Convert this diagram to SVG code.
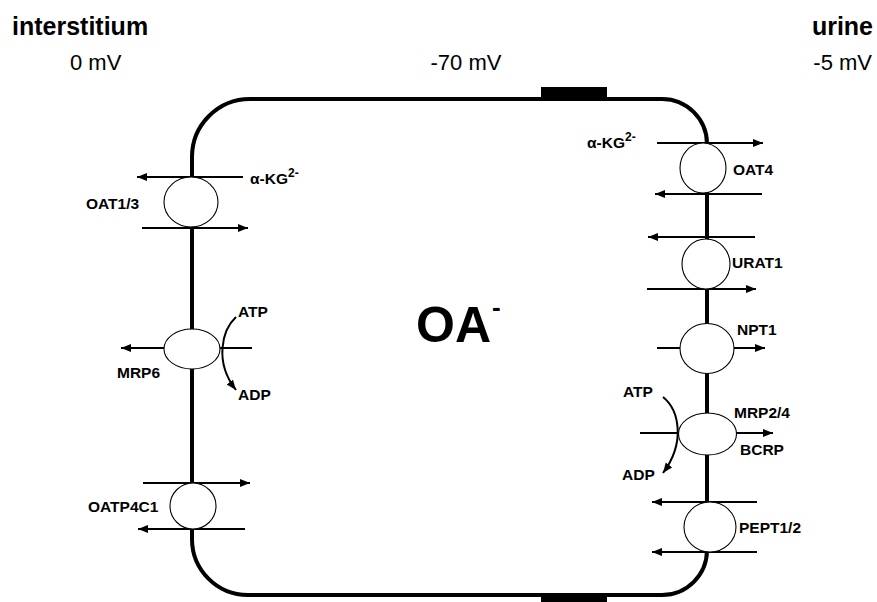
<svg xmlns="http://www.w3.org/2000/svg" width="877" height="602" viewBox="0 0 877 602">
<defs>
<marker id="ah" markerUnits="userSpaceOnUse" markerWidth="12" markerHeight="10" refX="10" refY="4" orient="auto">
<path d="M0,0 L10,4 L0,8 z" fill="#000"/>
</marker>
<style>
.lbl{font-family:"Liberation Sans",Arial,sans-serif;font-weight:bold;font-size:15.5px;fill:#000}
.hdr{font-family:"Liberation Sans",Arial,sans-serif;font-weight:bold;font-size:25px;fill:#000}
.mv{font-family:"Liberation Sans",Arial,sans-serif;font-size:22px;fill:#000}
.tr{fill:#fff;stroke:#000;stroke-width:1.1}
.ar{stroke:#000;stroke-width:2;fill:none}
.arm{stroke:#000;stroke-width:2;fill:none;marker-end:url(#ah)}
</style>
</defs>
<rect width="877" height="602" fill="#fff"/>
<g id="header">
<text class="hdr" x="12" y="35">interstitium</text>
<text class="hdr" x="873" y="35" text-anchor="end">urine</text>
<text class="mv" x="70" y="70">0 mV</text>
<text class="mv" x="466" y="70" text-anchor="middle">-70 mV</text>
<text class="mv" x="872" y="70" text-anchor="end">-5 mV</text>
</g>
<g id="cell">
<path d="M250,99 H662 A45,45 0 0 1 707,144 V550 A45,45 0 0 1 662,595 H248 A56,56 0 0 1 192,539 V157 A58,58 0 0 1 250,99 Z" fill="none" stroke="#000" stroke-width="4"/>
<rect x="541" y="87" width="66" height="12" fill="#000"/>
<rect x="541" y="595" width="66" height="7" fill="#000"/>
<text x="416" y="342" style="font-family:'Liberation Sans',Arial,sans-serif;font-weight:bold;font-size:50px">OA<tspan font-size="26" dx="1" dy="-26">-</tspan></text>
</g>
<g id="connectors">
<line class="arm" x1="243" y1="177" x2="137" y2="177"/>
<line class="arm" x1="142" y1="228" x2="248" y2="228"/>
<line class="arm" x1="164" y1="348" x2="121" y2="348"/>
<line class="ar" x1="220" y1="348" x2="252" y2="348"/>
<path class="arm" d="M236,317 C222,330 214,362 236,390"/>
<line class="arm" x1="143" y1="483" x2="250" y2="483"/>
<line class="arm" x1="245" y1="529" x2="138" y2="529"/>
<line class="arm" x1="657" y1="143" x2="763" y2="143"/>
<line class="arm" x1="762" y1="194" x2="655" y2="194"/>
<line class="arm" x1="755" y1="237" x2="648" y2="237"/>
<line class="arm" x1="647" y1="289" x2="756" y2="289"/>
<line class="ar" x1="657" y1="348" x2="680" y2="348"/>
<line class="arm" x1="733" y1="348" x2="765" y2="348"/>
<line class="ar" x1="640" y1="433" x2="679" y2="433"/>
<line class="arm" x1="736" y1="433" x2="773" y2="433"/>
<path class="arm" d="M663,397 C679,410 686,442 663,473"/>
<line class="arm" x1="757" y1="502" x2="652" y2="502"/>
<line class="arm" x1="757" y1="552" x2="652" y2="552"/>
</g>
<g id="OAT1_3">
<ellipse class="tr" cx="191" cy="202" rx="27" ry="25"/>
<text class="lbl" x="86" y="209">OAT1/3</text>
<text class="lbl" x="250" y="184" font-size="19">α-KG<tspan font-size="12" dy="-7">2-</tspan></text>
</g>
<g id="MRP6">
<ellipse class="tr" cx="192" cy="349" rx="28" ry="20"/>
<text class="lbl" x="117" y="378">MRP6</text>
<text class="lbl" x="238" y="317">ATP</text>
<text class="lbl" x="238" y="400">ADP</text>
</g>
<g id="OATP4C1">
<ellipse class="tr" cx="193" cy="506" rx="23" ry="23"/>
<text class="lbl" x="88" y="512">OATP4C1</text>
</g>
<g id="OAT4">
<ellipse class="tr" cx="703" cy="168" rx="23" ry="25"/>
<text class="lbl" x="733" y="175">OAT4</text>
<text class="lbl" x="587" y="148" font-size="19">α-KG<tspan font-size="12" dy="-7">2-</tspan></text>
</g>
<g id="URAT1">
<ellipse class="tr" cx="706" cy="264" rx="24" ry="25"/>
<text class="lbl" x="732" y="268">URAT1</text>
</g>
<g id="NPT1">
<ellipse class="tr" cx="707" cy="348.5" rx="27" ry="25"/>
<text class="lbl" x="737" y="335">NPT1</text>
</g>
<g id="MRP2_4">
<ellipse class="tr" cx="707.5" cy="434" rx="29" ry="21"/>
<text class="lbl" x="734" y="418">MRP2/4</text>
<text class="lbl" x="740" y="455">BCRP</text>
<text class="lbl" x="623" y="397">ATP</text>
<text class="lbl" x="622" y="480">ADP</text>
</g>
<g id="PEPT1_2">
<ellipse class="tr" cx="710" cy="527" rx="26" ry="25"/>
<text class="lbl" x="739" y="533">PEPT1/2</text>
</g>
</svg>
